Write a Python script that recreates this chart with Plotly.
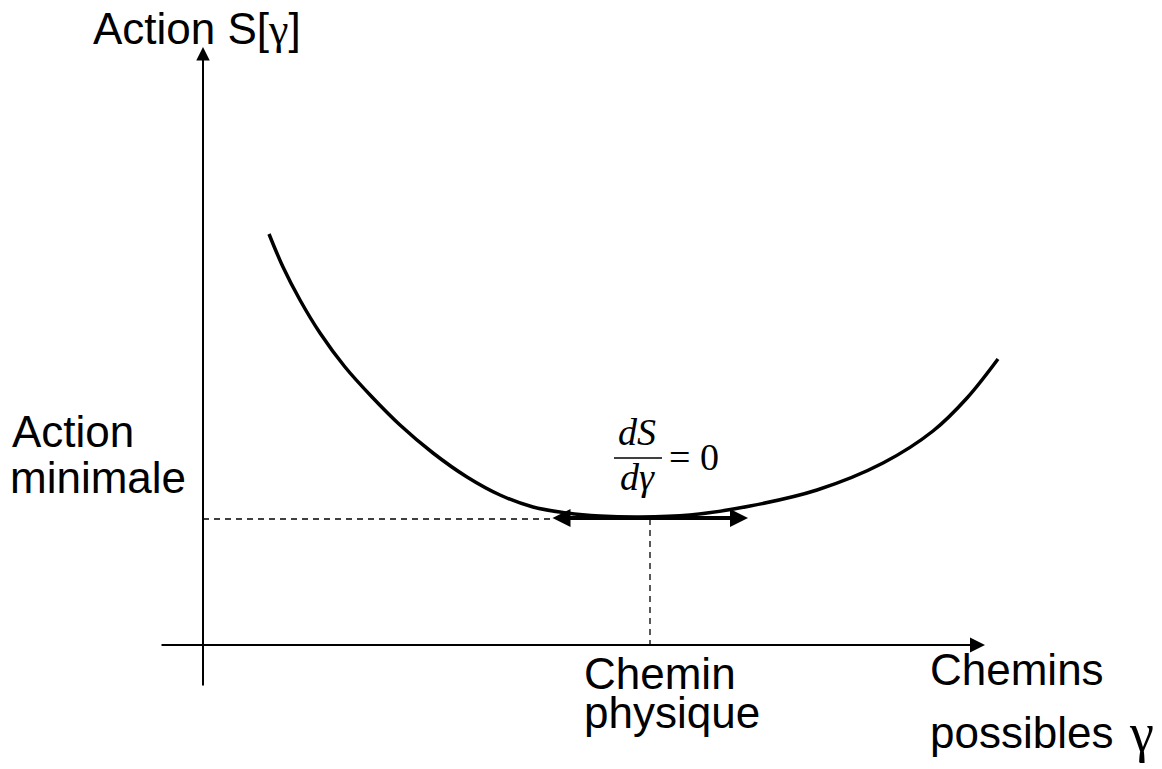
import plotly.graph_objects as go

# ---- data (diagram coordinates; y grows downward) ----
curve_x = [269, 283, 300, 320, 345, 372, 400, 433, 467, 500, 533, 567, 600, 640, 690, 750, 817, 883, 933, 967, 998]
curve_y = [234, 267, 300, 333, 367, 397, 425, 453, 477, 495, 507, 513, 516, 517, 515, 506, 490, 463, 431, 398, 359]

y_axis_x = 203
y_axis_range = [687, 47]        # bottom, arrow tip
x_axis_y = 645
x_axis_range = [160, 985]       # left, arrow tip

min_x = 650                     # physical path
min_y = 519                     # minimal action
tangent_range = [551, 748]
tangent_y = 518

labels_main = [
    # text, x_left, baseline
    ("Action S[<span style='font-family:Liberation Serif'>γ</span>]", 91, 44),
    ("Action", 10, 447),
    ("minimale", 8, 493),
    ("Chemin", 582, 689),
    ("physique", 582, 728),
    ("Chemins", 928, 685),
    ("possibles", 928, 748),
]
FS = 44
SANS = "Liberation Sans, Arial, sans-serif"
SERIF = "Liberation Serif, Times New Roman, serif"

W, H = 1162, 769

fig = go.Figure()

# the curve S[gamma]
fig.add_trace(go.Scatter(x=curve_x, y=curve_y, mode="lines",
                         line=dict(color="black", width=3.5, shape="spline", smoothing=1.0),
                         hoverinfo="skip", showlegend=False))

shapes = []
# dashed guides
shapes.append(dict(type="line", xref="x", yref="y", x0=y_axis_x, x1=tangent_range[0], y0=min_y, y1=min_y,
                   line=dict(color="black", width=1.3, dash="6px,5px")))
shapes.append(dict(type="line", xref="x", yref="y", x0=min_x, x1=min_x, y0=min_y, y1=x_axis_y,
                   line=dict(color="black", width=1.3, dash="6px,5px")))
# fraction bar
shapes.append(dict(type="line", xref="x", yref="y", x0=614, x1=662, y0=458, y1=458,
                   line=dict(color="black", width=1.4)))

annotations = []
# vertical axis with arrow
annotations.append(dict(x=y_axis_x, y=y_axis_range[1], ax=y_axis_x, ay=y_axis_range[0],
                        xref="x", yref="y", axref="x", ayref="y", text="", showarrow=True,
                        arrowhead=2, arrowwidth=2, arrowsize=1.35, arrowcolor="black", standoff=0))
# horizontal axis with arrow
annotations.append(dict(x=x_axis_range[1], y=x_axis_y, ax=x_axis_range[0], ay=x_axis_y,
                        xref="x", yref="y", axref="x", ayref="y", text="", showarrow=True,
                        arrowhead=2, arrowwidth=2, arrowsize=1.5, arrowcolor="black", standoff=0))
# double arrow tangent
annotations.append(dict(x=tangent_range[1], y=tangent_y, ax=tangent_range[0], ay=tangent_y,
                        xref="x", yref="y", axref="x", ayref="y", text="", showarrow=True,
                        arrowhead=2, startarrowhead=2, arrowside="end+start",
                        arrowwidth=4, arrowsize=0.9, startarrowsize=0.9,
                        arrowcolor="black", standoff=0, startstandoff=0))

for txt, xl, base in labels_main:
    annotations.append(dict(x=xl, y=base - 0.35 * FS, xref="x", yref="y", text=txt, showarrow=False,
                            xanchor="left", yanchor="middle", font=dict(family=SANS, size=FS, color="black")))
# large gamma after "possibles"
FG = 54
annotations.append(dict(x=1141, y=751 - 0.34 * FG, xref="x", yref="y", text="γ",
                        showarrow=False, xanchor="center", yanchor="middle",
                        font=dict(family=SERIF, size=FG, color="black")))

# formula dS/dγ = 0
FF = 38
annotations.append(dict(x=637, y=445 - 0.34 * FF, xref="x", yref="y", text="<i>dS</i>", showarrow=False,
                        xanchor="center", yanchor="middle", font=dict(family=SERIF, size=FF, color="black")))
annotations.append(dict(x=637, y=490 - 0.34 * FF, xref="x", yref="y", text="<i>dγ</i>", showarrow=False,
                        xanchor="center", yanchor="middle", font=dict(family=SERIF, size=FF, color="black")))
FE = 38
annotations.append(dict(x=667, y=470 - 0.34 * FE, xref="x", yref="y", text="= 0", showarrow=False,
                        xanchor="left", yanchor="middle", font=dict(family=SERIF, size=FE, color="black")))

fig.update_layout(
    width=W, height=H,
    margin=dict(l=0, r=0, t=0, b=0),
    paper_bgcolor="white", plot_bgcolor="white",
    xaxis=dict(range=[0, W], visible=False, fixedrange=True),
    yaxis=dict(range=[H, 0], visible=False, fixedrange=True),
    shapes=shapes, annotations=annotations,
    showlegend=False,
)

# remove the default page margin so the figure fills the window exactly
fig.write_html("out.html",
               config={"displayModeBar": False, "staticPlot": True},
               post_script="document.body.style.margin='0';document.body.style.overflow='hidden';")
